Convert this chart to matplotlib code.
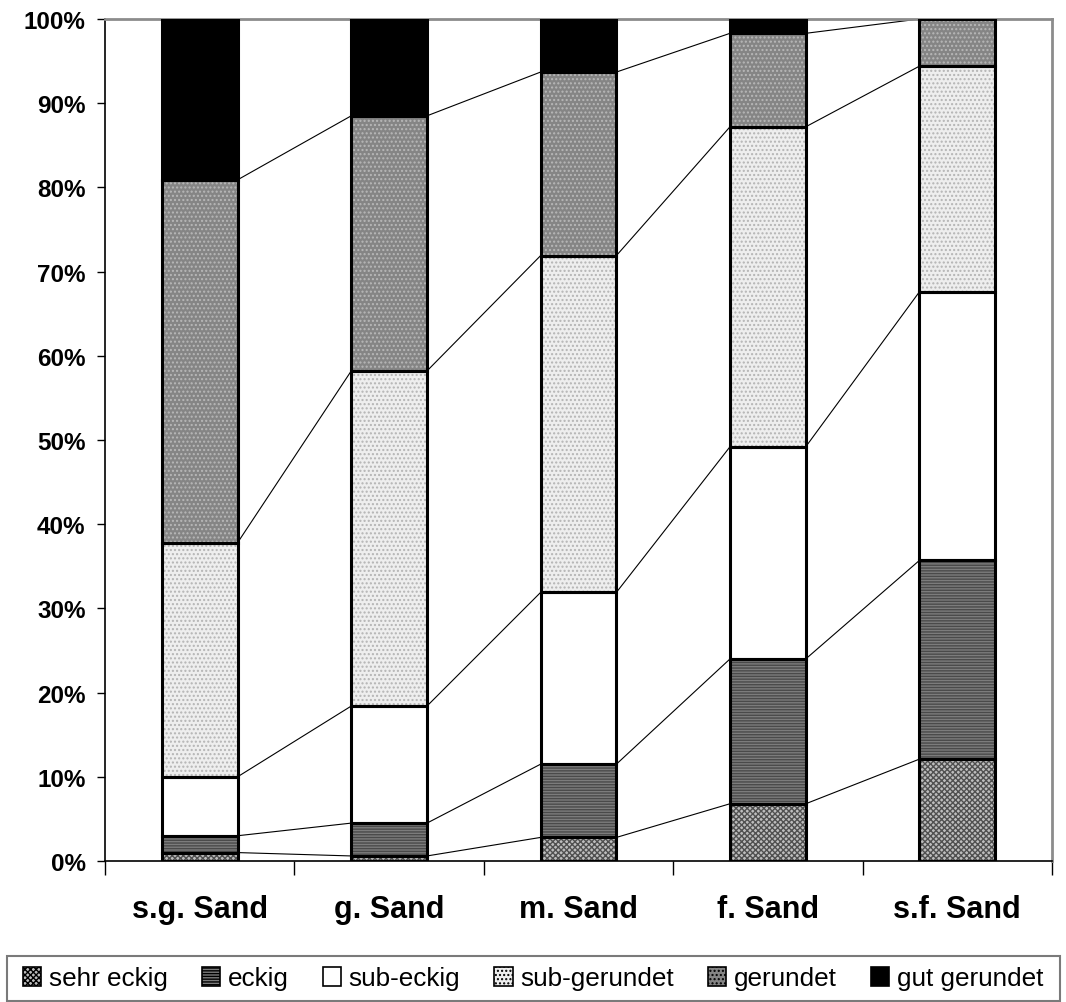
import matplotlib
matplotlib.use("Agg")
import matplotlib.pyplot as plt
import numpy as np
from matplotlib.patches import Rectangle

plt.rcParams['font.family'] = ['Liberation Sans', 'DejaVu Sans']
plt.rcParams['hatch.linewidth'] = 1.0

categories = ["s.g. Sand", "g. Sand", "m. Sand", "f. Sand", "s.f. Sand"]
classes = ["sehr eckig", "eckig", "sub-eckig", "sub-gerundet", "gerundet", "gut gerundet"]

# percentage share of each roundness class per sand fraction
sehr_eckig   = [1.0, 0.6, 2.8, 6.8, 12.1]
eckig        = [2.0, 3.9, 8.7, 17.2, 23.6]
sub_eckig    = [7.0, 13.9, 20.4, 25.2, 31.9]
sub_gerundet = [27.8, 39.8, 40.0, 38.0, 26.8]
gerundet     = [43.1, 30.3, 21.8, 11.1, 5.6]
gut_gerundet = [19.1, 11.5, 6.3, 1.7, 0.0]

series = [sehr_eckig, eckig, sub_eckig, sub_gerundet, gerundet, gut_gerundet]
yticks = [0, 10, 20, 30, 40, 50, 60, 70, 80, 90, 100]
ytick_labels = ["0%", "10%", "20%", "30%", "40%", "50%", "60%", "70%", "80%", "90%", "100%"]

# fill colour, hatch pattern, hatch colour per class
styles = [
    ("#bdbdbd", "xxxxxx", "#505050"),
    ("#7c7c7c", "------", "#4a4a4a"),
    ("#ffffff", None, None),
    ("#eeeeee", "....", "#b4b4b4"),
    ("#858585", "....", "#b8b8b8"),
    ("#000000", None, None),
]

fig = plt.figure(figsize=(10.66, 10.03), dpi=100)
ax = fig.add_axes([105/1066, 1 - 862/1003, (1052 - 105)/1066, (862 - 20)/1003])

x = np.arange(len(categories))
width = 0.40
bottom = np.zeros(len(categories))
handles = []
for vals, (fc, hatch, hc), name in zip(series, styles, classes):
    vals = np.array(vals, dtype=float)
    if hatch:
        ax.bar(x, vals, width, bottom=bottom, color=fc, hatch=hatch,
               edgecolor=hc, linewidth=0, zorder=2)
    else:
        ax.bar(x, vals, width, bottom=bottom, color=fc, linewidth=0, zorder=2)
    ax.bar(x, vals, width, bottom=bottom, fill=False, edgecolor="black",
           linewidth=2.2, zorder=3)
    top = bottom + vals
    # series lines joining the segment tops of neighbouring bars
    for i in range(len(categories) - 1):
        ax.plot([x[i] + width/2, x[i+1] - width/2], [top[i], top[i+1]],
                color="black", linewidth=0.8, zorder=1)
    bottom = top
    handles.append(Rectangle((0, 0), 1, 1, facecolor=fc, hatch=hatch,
                             edgecolor="black", linewidth=1.2))

ax.set_xlim(-0.5, len(categories) - 0.5)
ax.set_ylim(0, 100)
ax.set_yticks(yticks)
ax.set_yticklabels(ytick_labels, fontsize=17.5, fontweight="bold")
ax.set_xticks(x)
ax.set_xticklabels(categories, fontsize=22, fontweight="bold")
ax.tick_params(axis="x", length=0, pad=24)
ax.set_xticks(np.arange(-0.5, len(categories)), minor=True)
ax.tick_params(axis="x", which="minor", length=10, width=1, color="black")
ax.tick_params(axis="y", length=6, width=1, pad=8, color="black")

for side in ("top", "right"):
    ax.spines[side].set_color("#8c8c8c")
    ax.spines[side].set_linewidth(2)
for side in ("left", "bottom"):
    ax.spines[side].set_color("black")
    ax.spines[side].set_linewidth(1.2)

# legend frame drawn across the bottom of the figure
frame = Rectangle((7/1066, 1 - 1002/1003), (1060 - 7)/1066, 45/1003,
                  transform=fig.transFigure, facecolor="white",
                  edgecolor="#7a7a7a", linewidth=1.5)
fig.patches.append(frame)
leg = fig.legend(handles, classes, ncol=6, loc="center",
                 bbox_to_anchor=(0.5, 1 - 979.5/1003), frameon=False,
                 fontsize=18.8, handlelength=0.7, handleheight=0.7,
                 handletextpad=0.3, columnspacing=1.3, borderpad=0)

fig.savefig("out.png", dpi=100)
